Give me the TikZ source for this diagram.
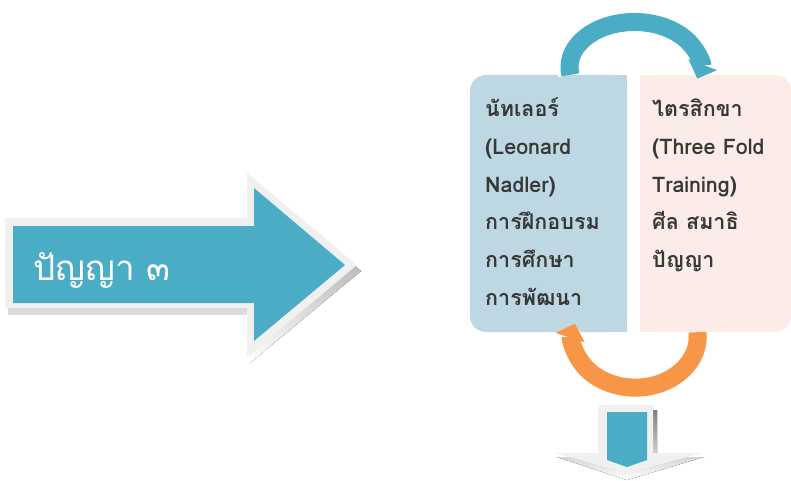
\documentclass[tikz,border=0pt]{standalone}
\usepackage{fontspec}
\usetikzlibrary{arrows.meta}
\newfontfamily\thaifont[Script=Thai]{Loma}
\definecolor{aqua}{HTML}{4BACC6}
\definecolor{orng}{HTML}{F79646}
\definecolor{boxblue}{HTML}{BDD8E2}
\definecolor{boxpink}{HTML}{FBECE7}
\definecolor{rim}{HTML}{F0F0F0}
\definecolor{shade}{HTML}{8FA9B0}
\definecolor{txt}{HTML}{383838}
\tikzset{
  boxtext/.style={anchor=base west, inner sep=0pt, text=txt, font=\thaifont\bfseries\fontsize{21.5}{24}\selectfont},
  halo/.style={draw=white, line width=25pt},
}
\begin{document}
\begin{tikzpicture}[x=1pt,y=-1pt]
\useasboundingbox (0,0) rectangle (791,481);
% big arrow
\fill[shade] (8,224) -- (250,224) -- (250,179) -- (361,271) -- (250,363) -- (250,314) -- (8,314) -- cycle;
\fill[rim] (5,218) -- (247,218) -- (247,173) -- (357,265) -- (247,357) -- (247,308) -- (5,308) -- cycle;
\fill[aqua] (13,226) -- (254,226) -- (254,188) -- (345,265) -- (254,341) -- (254,303) -- (13,303) -- cycle;
\node[anchor=base west, inner sep=0pt, text=white, font=\thaifont\fontsize{35}{40}\selectfont] (big) at (33,280) {ปัญญา ๓};
% boxes
\node[fill=boxblue, rounded corners=16pt, minimum width=157pt, minimum height=257pt, inner sep=0pt] (lbox) at (548.5,203.5) {};
\fill[boxblue] (600,75) rectangle (627,332);
\node[fill=boxpink, rounded corners=16pt, minimum width=151pt, minimum height=257pt, inner sep=0pt] (rbox) at (715.5,203.5) {};
\fill[boxpink] (640,75) rectangle (670,332);
% texts
\foreach \t [count=\i] in {{นัทเลอร์},{(Leonard},{Nadler)},{การฝึกอบรม},{การศึกษา},{การพัฒนา}}
  \node[boxtext] (l\i) at (485,{117+37.6*(\i-1)}) {\t};
\foreach \t [count=\i] in {{ไตรสิกขา},{(Three Fold},{Training)},{ศีล สมาธิ},{ปัญญา}}
  \node[boxtext] (r\i) at (652,{117+37.6*(\i-1)}) {\t};
% top arc
\coordinate (ts) at ([xshift=22pt]lbox.north);
\draw[halo, -{Triangle[width=36pt,length=18pt]}] (ts) arc[start angle=170, end angle=375, x radius=65, y radius=45];
\draw[aqua, line width=18pt, -{Triangle[width=30pt,length=15pt]}] (ts) arc[start angle=170, end angle=375, x radius=65, y radius=45];
% bottom arc
\coordinate (bs) at ([xshift=-18pt]rbox.south);
\draw[halo, -{Triangle[width=36pt,length=18pt]}] (bs) arc[start angle=-5, end angle=195, x radius=62.5, y radius=51];
\draw[orng, line width=18pt, -{Triangle[width=30pt,length=15pt]}] (bs) arc[start angle=-5, end angle=195, x radius=62.5, y radius=51];
% down arrow
\fill[shade] (601,410) -- (657,410) -- (657,457) -- (704,457) -- (627,480) -- (557,457) -- (601,457) -- cycle;
\fill[rim] (598,405) -- (653,405) -- (653,453) -- (702,453) -- (627,473) -- (555,453) -- (598,453) -- cycle;
\fill[aqua] (607,412) -- (647,412) -- (647,460) -- (627,467) -- (607,460) -- cycle;
\end{tikzpicture}
\end{document}
